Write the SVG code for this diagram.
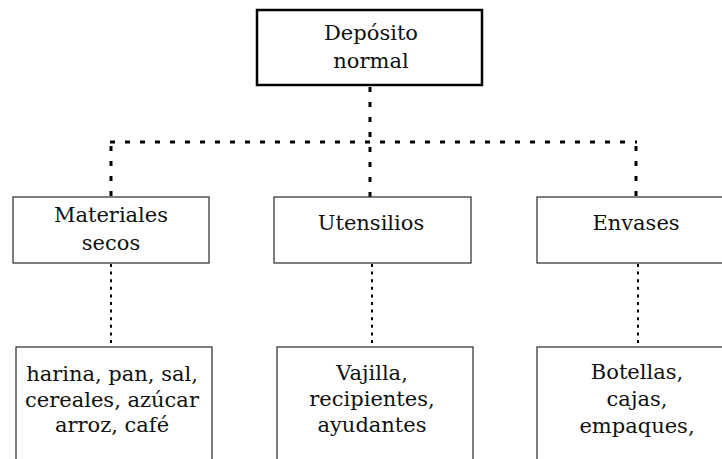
<svg xmlns="http://www.w3.org/2000/svg" width="722" height="459" viewBox="0 0 722 459">
<style>
.box{fill:#fff;stroke:#3a3a3a;stroke-width:1.3}
.top{fill:#fff;stroke:#000;stroke-width:2.5}
.t{font-family:"DejaVu Serif","Liberation Serif",serif;font-size:21px;fill:#111;text-anchor:middle}
.thick{stroke:#000;stroke-width:3;stroke-dasharray:5 10;fill:none}
.thin{stroke:#000;stroke-width:2;stroke-dasharray:3 4.6;fill:none}
</style>
<rect width="722" height="459" fill="#fff"/>
<g id="connectors">
<line class="thick" x1="370" y1="87" x2="370" y2="197"/>
<line class="thick" x1="110" y1="142" x2="637" y2="142"/>
<line class="thick" x1="111" y1="146" x2="111" y2="197"/>
<line class="thick" x1="636" y1="146" x2="636" y2="197"/>
<line class="thin" x1="111" y1="264" x2="111" y2="347"/>
<line class="thin" x1="372" y1="264" x2="372" y2="347"/>
<line class="thin" x1="638" y1="264" x2="638" y2="347"/>
</g>
<g id="node-deposito">
<rect class="top" x="257" y="10" width="225" height="75"/>
<text class="t" x="371" y="40">Depósito</text>
<text class="t" x="371" y="68">normal</text>
</g>
<g id="node-materiales">
<rect class="box" x="13" y="197" width="196" height="66"/>
<text class="t" x="111" y="222">Materiales</text>
<text class="t" x="111" y="250">secos</text>
</g>
<g id="node-utensilios">
<rect class="box" x="274" y="197" width="197" height="66"/>
<text class="t" x="371" y="230">Utensilios</text>
</g>
<g id="node-envases">
<rect class="box" x="537" y="197" width="200" height="66"/>
<text class="t" x="636" y="230">Envases</text>
</g>
<g id="node-secos-items">
<rect class="box" x="16" y="347" width="196" height="130"/>
<text class="t" x="112" y="381">harina, pan, sal,</text>
<text class="t" x="112" y="407">cereales, azúcar</text>
<text class="t" x="112" y="432">arroz, café</text>
</g>
<g id="node-utensilios-items">
<rect class="box" x="277" y="347" width="196" height="130"/>
<text class="t" x="372" y="380">Vajilla,</text>
<text class="t" x="372" y="406">recipientes,</text>
<text class="t" x="372" y="432">ayudantes</text>
</g>
<g id="node-envases-items">
<rect class="box" x="537" y="347" width="200" height="130"/>
<text class="t" x="637" y="379">Botellas,</text>
<text class="t" x="637" y="406">cajas,</text>
<text class="t" x="637" y="433">empaques,</text>
</g>
</svg>
